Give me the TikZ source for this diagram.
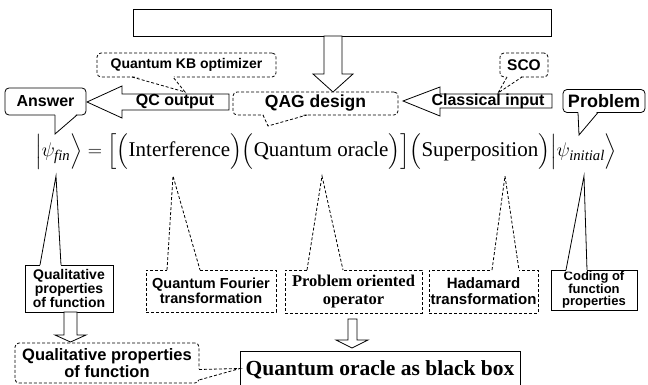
\documentclass[tikz,border=0pt]{standalone}
\usepackage{exscale}
\usepackage{fontspec}
\setmainfont{Liberation Serif}
\setsansfont{Liberation Sans}
\usepackage{graphicx}
\newcommand\eqstrut{\rule[-0.55em]{0pt}{1.05em}}
\begin{document}
\begin{tikzpicture}[x=1pt,y=-1pt,line width=0.8pt,
  every node/.style={inner sep=0pt,outer sep=0pt,align=center},
  sf/.style={font=\sffamily\bfseries\fontsize{#1}{#1}\selectfont},
  rm/.style={font=\rmfamily\bfseries\fontsize{#1}{#1}\selectfont},
  dsh/.style={dash pattern=on 3pt off 2pt},
  sbox/.style={draw,fill=white},
  rbox/.style={draw,fill=white,rounded corners=4pt},
  dbox/.style={draw,fill=white,dsh},
  drbox/.style={draw,fill=white,dsh,rounded corners=4pt},
  blockarrow/.style={draw,fill=white,line join=miter},
  tailfill/.style={fill=white,draw=none}]
\useasboundingbox (0,0) rectangle (648,385);

% top box and arrow
\node[sbox,minimum width=418pt,minimum height=27pt] (top) at (342,22.5) {};
\draw[blockarrow] (324,36) -- (324,74) -- (313,74) -- (333,92) -- (353,74) -- (342,74) -- (342,36) -- cycle;

% QAG design
\node[drbox,minimum width=165pt,minimum height=23pt,sf=17.5] (qag) at (315.5,103.5) {QAG design};
\coordinate (qagtip) at (268,126);
\fill[tailfill] (263,113.5) -- (qagtip) -- (307,113.5) -- cycle;
\draw[dsh] (263,115) -- (qagtip) -- (307,115);

% Quantum KB optimizer
\node[drbox,minimum width=179pt,minimum height=24pt,sf=14] (kb) at (186.5,65) {Quantum KB optimizer};
\coordinate (kbtip) at (185,92);
\fill[tailfill] (132,75.5) -- (kbtip) -- (173,75.5) -- cycle;
\draw[dsh] (132,77) -- (kbtip) -- (173,77);

% QC output arrow
\draw[blockarrow] (229,94) -- (122,94) -- (122,86) -- (87,102) -- (122,118) -- (122,110) -- (229,110) -- cycle;
\node[sf=16] (qc) at (175,102) {QC output};

% Answer
\node[rbox,minimum width=81pt,minimum height=27pt,sf=16] (ans) at (45.5,101.5) {Answer};
\coordinate (anstip) at (55,134);
\fill[tailfill] (55,113.5) -- (anstip) -- (77,113.5) -- cycle;
\draw (55,115) -- (anstip) -- (77,115);

% SCO
\node[drbox,minimum width=48pt,minimum height=24pt,sf=15.5] (sco) at (524,65) {SCO};
\coordinate (scotip) at (498,93);
\fill[tailfill] (507,75.5) -- (scotip) -- (522,75.5) -- cycle;
\draw[dsh] (507,77) -- (scotip) -- (522,77);

% Classical input arrow
\draw[blockarrow] (552,94) -- (440,94) -- (440,87) -- (403,101) -- (440,116) -- (440,108) -- (552,108) -- cycle;
\node[sf=16] (cin) at (488,101) {Classical input};

% Problem
\node[rbox,minimum width=82pt,minimum height=23pt,sf=18] (prob) at (604,101) {Problem};
\coordinate (probtip) at (579,135);
\fill[tailfill] (578,110.5) -- (probtip) -- (598,110.5) -- cycle;
\draw (578,112.5) -- (probtip) -- (598,112.5);

% equation
\node[font=\fontsize{22}{26}\selectfont] (eq) at (326,152) {\resizebox{582pt}{!}{$\left|\eqstrut\psi_{\mathit{fin}}\right\rangle = {\left[{\left(\eqstrut\mbox{Interference}\right)}{\left(\eqstrut\mbox{Quantum oracle}\right)}\right]}{\left(\eqstrut\mbox{Superposition}\right)}{\left|\eqstrut\psi_{\mathit{initial}}\right\rangle}$}};

% Qualitative properties (solid)
\node[sbox,minimum width=88pt,minimum height=47pt,sf=14] (qual) at (69,288.5) {Qualitative\\properties\\of function};
\coordinate (qualtip) at (56,176);
\fill[tailfill] (40,266.5) -- (qualtip) -- (61,266.5) -- cycle;
\draw (40,265) -- (qualtip) -- (61,265);
\draw[blockarrow] (64,312) -- (64,335) -- (55,335) -- (70.5,342) -- (86,335) -- (77,335) -- (77,312) -- cycle;

% Qualitative properties (dashed)
\node[drbox,minimum width=184pt,minimum height=40pt,sf=16.5] (qual2) at (107,363) {Qualitative properties\\[1pt]of function};

% Quantum oracle as black box
\node[sbox,minimum width=280pt,minimum height=37pt,rm=21.5] (bb) at (380,369.5) {Quantum oracle as black box};
\fill[tailfill] (197.5,369) -- ([yshift=1pt]bb.west) -- (197.5,380) -- cycle;
\draw[dsh] (199,369.5) -- ([yshift=1pt]bb.west) -- (199,380);

% Quantum Fourier transformation
\node[dbox,minimum width=130pt,minimum height=42pt,sf=14.5] (qft) at (211,291) {Quantum Fourier\\[1pt]transformation};
\coordinate (qfttip) at (173,176);
\fill[tailfill] (167,271.5) -- (qfttip) -- (200,271.5) -- cycle;
\draw[dsh] (167,270) -- (qfttip) -- (200,270);

% Problem oriented operator
\node[dbox,minimum width=137pt,minimum height=43pt,rm=16.5] (poo) at (353.5,291.5) {Problem oriented\\[1pt]operator};
\coordinate (pootip) at (322,176);
\fill[tailfill] (307,271.5) -- (pootip) -- (343,271.5) -- cycle;
\draw[dsh] (307,270) -- (pootip) -- (343,270);
\draw[blockarrow] (348,319) -- (348,340) -- (336,340) -- (352,348) -- (368,340) -- (357,340) -- (357,319) -- cycle;

% Hadamard transformation
\node[dbox,minimum width=109pt,minimum height=43pt,sf=15] (had) at (483.5,291.5) {Hadamard\\[1pt]transformation};
\coordinate (hadtip) at (505,176);
\fill[tailfill] (492,271.5) -- (hadtip) -- (519,271.5) -- cycle;
\draw[dsh] (492,270) -- (hadtip) -- (519,270);

% Coding of function properties
\node[sbox,minimum width=86pt,minimum height=40pt,font=\sffamily\bfseries\fontsize{13}{12.5}\selectfont] (cod) at (594,290) {Coding of\\function\\properties};
\coordinate (codtip) at (584,176);
\fill[tailfill] (566,271.5) -- (codtip) -- (587,271.5) -- cycle;
\draw (566,270) -- (codtip) -- (587,270);
\end{tikzpicture}
\end{document}
